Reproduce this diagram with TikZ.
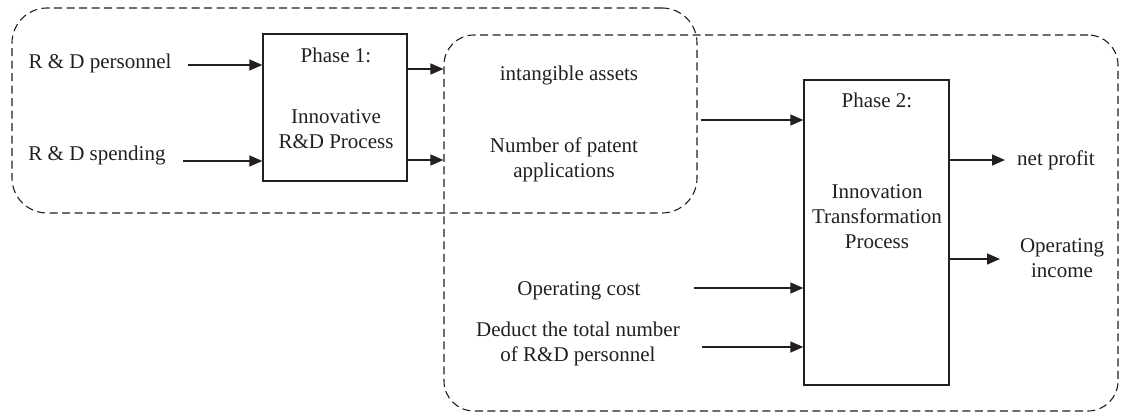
\documentclass[tikz,border=0pt]{standalone}
\usepackage{fontspec}
\setmainfont{Liberation Serif}
\usetikzlibrary{arrows.meta}
\definecolor{ink}{HTML}{231F20}
\begin{document}
\begin{tikzpicture}[x=1pt,y=-1pt,
  font=\fontsize{21}{25}\selectfont,
  lbl/.style={text=ink, inner sep=0pt, align=center},
  proc/.style={draw=ink, line width=1.4pt, inner sep=0pt},
  group/.style={draw=ink, line width=1.1pt, dash pattern=on 8pt off 4.5pt, inner sep=0pt},
  arr/.style={draw=ink, line width=1.5pt, -{Triangle[length=13pt,width=11pt]}}]
\useasboundingbox (0,0) rectangle (1124,415);

% dashed groupings of the two phases
\node[group, rounded corners=35pt, minimum width=685pt, minimum height=205pt] (g1) at (354.5,110.5) {};
\node[group, rounded corners=30pt, minimum width=674pt, minimum height=376pt] (g2) at (781,223) {};

% process boxes
\node[proc, minimum width=144pt, minimum height=147pt] (p1) at (335,107.5) {};
\node[proc, minimum width=145pt, minimum height=305pt] (p2) at (876.5,232.5) {};

\node[lbl] (p1t) at (336,55) {Phase 1:};
\node[lbl] (p1b) at (336,129) {Innovative\\R\&D Process};
\node[lbl] (p2t) at (877,100) {Phase 2:};
\node[lbl] (p2b) at (877,217) {Innovation\\Transformation\\Process};

% labels
\node[lbl] (pers) at (100,63) {R \& D personnel};
\node[lbl] (spend) at (97,155) {R \& D spending};
\node[lbl] (intang) at (569,75) {intangible assets};
\node[lbl] (patent) at (564,160) {Number of patent\\applications};
\node[lbl] (opcost) at (579,291) {Operating cost};
\node[lbl] (deduct) at (578,344) {Deduct the total number\\of R\&D personnel};
\node[lbl] (profit) at (1056,160) {net profit};
\node[lbl] (income) at (1062,258) {Operating\\income};

% arrow levels
\coordinate (a1) at (188,65);
\coordinate (a2) at (183,161);
\coordinate (b1) at (0,69);
\coordinate (b2) at (0,160);
\coordinate (c1) at (0,120);
\coordinate (d1) at (694,288);
\coordinate (d2) at (702,347);
\coordinate (e1) at (1005,160);
\coordinate (e2) at (1000,259);

% connectors
\draw[arr] (a1) -- (a1 -| p1.west);
\draw[arr] (a2) -- (a2 -| p1.west);
\draw[arr] (p1.east |- b1) -- (g2.west |- b1);
\draw[arr] (p1.east |- b2) -- (g2.west |- b2);
\draw[arr] ([xshift=3pt]g1.east |- c1) -- (p2.west |- c1);
\draw[arr] (d1) -- (d1 -| p2.west);
\draw[arr] (d2) -- (d2 -| p2.west);
\draw[arr] (p2.east |- e1) -- (e1);
\draw[arr] (p2.east |- e2) -- (e2);
\end{tikzpicture}
\end{document}
